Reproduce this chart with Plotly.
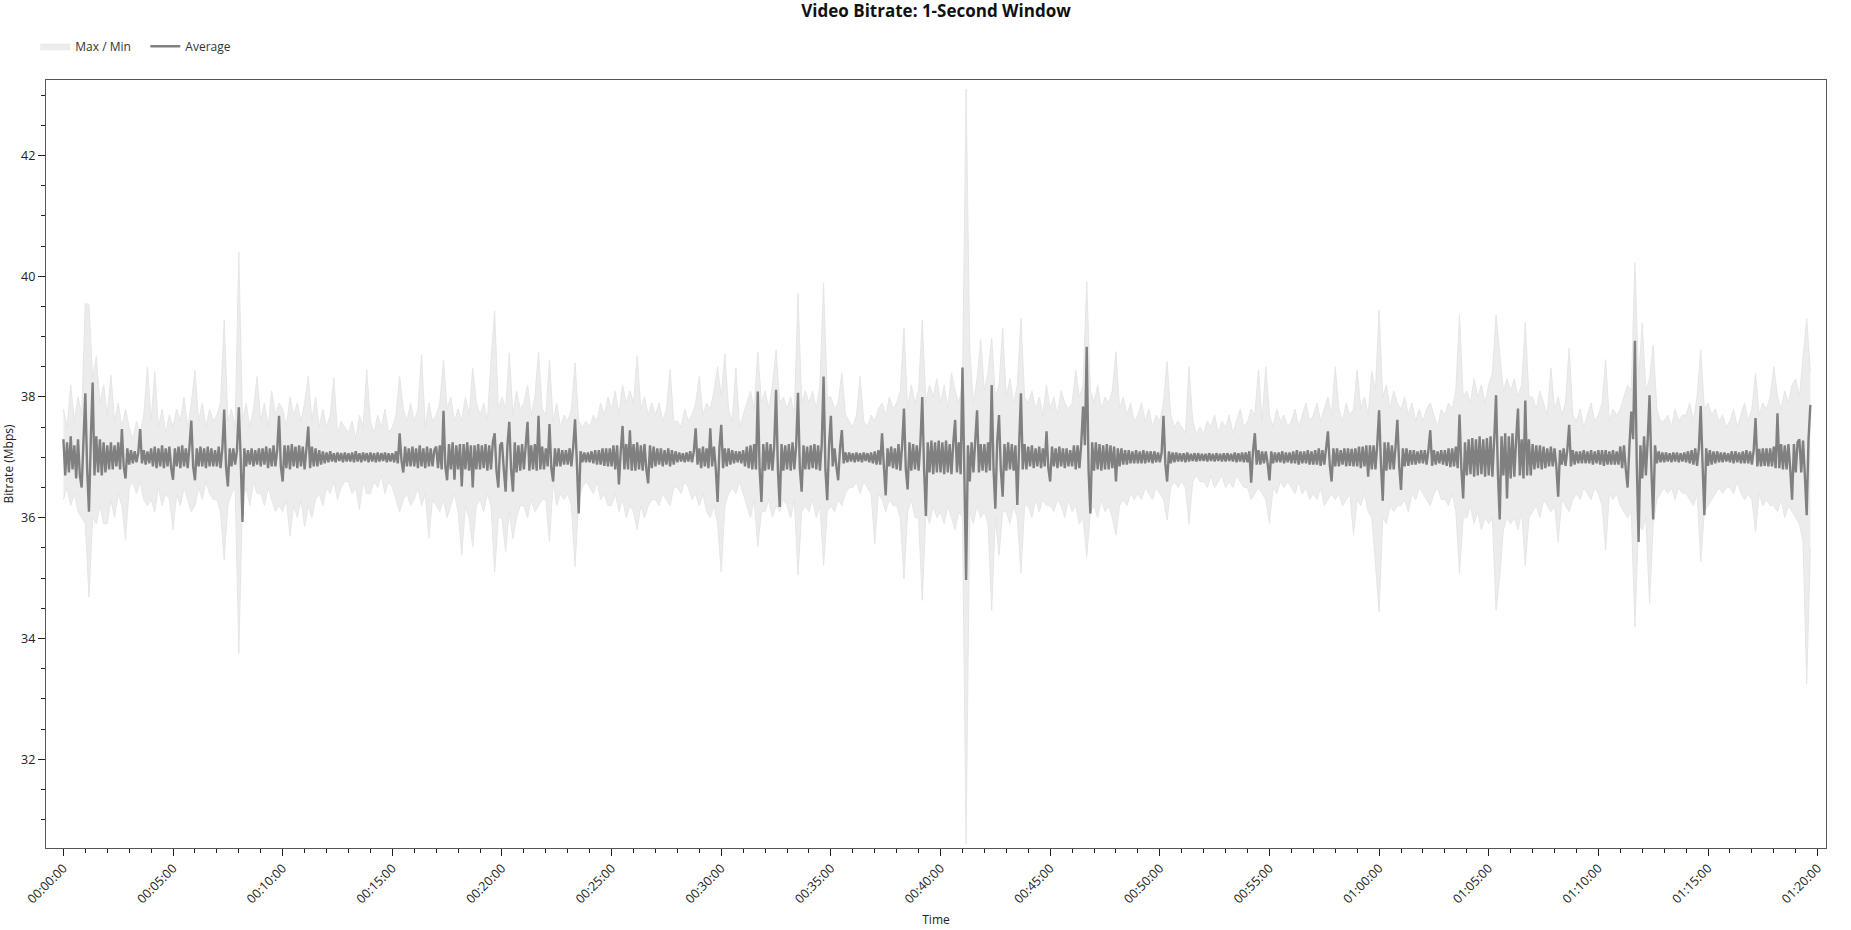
import plotly.graph_objects as go

# ---------------- data ----------------
# Max / Min envelope: one row = one minute, 10 s samples
BAND_STEP_S = 10
MAX_MBPS = [
    37.8, 37.5, 38.2, 37.6, 38.0, 37.7,
    39.55, 39.53, 38.3, 38.67, 37.9, 38.2,
    37.7, 38.36, 37.6, 37.9, 37.5, 37.8,
    37.5, 37.3, 37.6, 37.4, 37.7, 38.5,
    37.6, 38.42, 37.5, 37.8, 37.4, 37.7,
    37.5, 37.8, 37.6, 38.0, 37.5, 37.9,
    38.44, 37.6, 37.9, 37.5, 37.8, 37.6,
    37.7, 37.9, 39.28, 37.6, 37.8, 37.5,
    40.4, 37.6, 37.9, 37.5, 37.8, 38.34,
    37.6, 37.9, 37.5, 38.1, 37.7, 37.9,
    37.8, 37.5, 38.0, 37.7, 37.9, 37.6,
    37.9, 38.35, 37.6, 38.0, 37.5, 37.8,
    37.5, 37.7, 38.31, 37.4, 37.6, 37.5,
    37.4, 37.6, 37.3, 37.7, 37.5, 38.45,
    37.6, 37.4, 37.7, 37.5, 37.8, 37.4,
    37.5, 37.7, 38.34, 37.8, 37.6, 37.9,
    37.6, 37.8, 38.7, 37.5, 37.9, 37.6,
    37.7, 37.9, 38.61, 37.8, 38.0, 37.6,
    37.8, 37.6, 38.0, 37.7, 38.48, 37.9,
    37.7, 37.9, 37.6, 38.6, 39.42, 37.8,
    38.0, 37.8, 38.73, 37.7, 38.1, 37.8,
    37.9, 38.2, 37.7, 38.0, 38.75, 37.8,
    37.7, 38.61, 37.6, 37.9, 37.5, 37.7,
    37.6, 37.8, 38.56, 37.6, 37.5, 37.6,
    37.5, 37.7, 37.6, 37.9, 37.7, 38.0,
    37.8, 38.1, 37.7, 38.2, 37.9, 38.1,
    37.9, 38.68, 37.8, 38.0, 37.7, 37.9,
    37.7, 37.9, 37.6, 37.8, 38.45, 37.6,
    37.6, 37.5, 37.8, 37.6, 37.7, 37.9,
    38.34, 37.7, 37.9, 37.8, 38.1, 38.5,
    38.0, 38.72, 37.8, 37.6, 38.48, 37.5,
    37.7, 37.9, 38.1, 37.8, 38.75, 37.9,
    38.1, 37.8, 38.2, 38.78, 37.9, 38.0,
    37.8, 38.0, 37.7, 39.72, 37.9, 38.1,
    37.9, 38.1, 37.8, 38.2, 39.89, 38.0,
    38.0, 37.8, 37.9, 38.4, 37.7, 37.6,
    37.5, 37.7, 38.34, 37.6, 37.5, 37.7,
    37.6, 37.8, 37.9, 37.7, 38.0, 37.8,
    37.9, 38.1, 39.14, 37.8, 38.2, 37.9,
    38.1, 39.28, 37.9, 38.2, 38.0, 38.3,
    37.9, 38.2, 37.8, 38.4, 38.1, 37.9,
    38.2, 43.1, 38.78, 37.9, 38.3, 38.95,
    38.1, 38.4, 38.97, 38.0, 38.2, 39.14,
    38.0, 38.3, 37.9, 38.2, 39.3, 38.0,
    37.9, 38.1, 37.8, 38.0, 37.7, 38.2,
    37.8, 38.0, 37.7, 38.1, 37.9, 37.8,
    37.9, 38.44, 38.0, 38.2, 39.91, 38.1,
    37.9, 38.2, 37.8, 38.0, 37.9, 38.1,
    38.75, 37.8, 38.0, 37.7, 37.9, 37.6,
    37.7, 37.9, 37.6, 37.8, 37.5, 37.7,
    37.6, 37.9, 38.59, 37.7, 37.5, 37.6,
    37.5, 37.4, 38.5, 37.6, 37.4, 37.5,
    37.4, 37.6, 37.5, 37.7, 37.4, 37.6,
    37.5, 37.7, 37.4, 37.6, 37.8, 37.5,
    37.6, 37.8, 37.7, 38.45, 37.6, 38.5,
    37.7, 37.5, 37.8, 37.6, 37.7, 37.5,
    37.6, 37.8, 37.5, 37.7, 37.9, 37.6,
    37.7, 37.9, 37.6, 37.8, 38.0, 37.7,
    38.5, 37.8, 37.6, 37.9, 37.7, 37.8,
    38.45, 37.8, 38.0, 37.7, 38.42, 38.1,
    39.44, 38.0, 38.2, 37.8, 38.1, 37.9,
    37.8, 38.0, 37.7, 37.9, 37.6, 37.8,
    37.6, 37.8, 37.9, 37.7, 37.5, 37.8,
    37.7, 37.9, 37.8, 38.1, 39.36, 38.0,
    38.1, 37.9, 38.3, 38.0, 38.2, 37.9,
    38.2, 38.4, 39.36, 38.72, 38.1, 38.3,
    38.1, 38.3, 38.0, 38.2, 39.23, 38.0,
    38.0, 37.8, 38.1, 37.9, 37.7, 38.48,
    37.8, 38.0, 37.7, 37.9, 38.81, 37.7,
    37.6, 37.8, 37.5, 37.7, 37.9, 37.6,
    37.7, 37.9, 38.62, 37.6, 37.8, 37.7,
    37.8, 38.0, 38.2, 38.1, 40.22, 38.3,
    39.22, 38.1, 38.3, 38.86, 37.8, 37.6,
    37.6, 37.7, 37.5, 37.8, 37.6, 37.7,
    37.7, 37.9, 37.6, 38.0, 38.78, 37.8,
    37.9, 37.7, 37.8, 37.6, 37.7, 37.5,
    37.6, 37.8, 37.5, 37.7, 37.9, 37.6,
    37.8, 38.39, 37.7, 37.9, 37.8, 38.0,
    38.5, 38.0, 37.8, 38.1, 37.9, 38.2,
    38.3, 38.0, 38.6, 39.3, 38.4,
]

MIN_MBPS = [
    36.3, 36.5, 36.2, 36.4, 36.1, 36.0,
    35.9, 34.69, 36.0, 35.9, 36.2, 35.9,
    35.9, 36.3, 36.0, 36.4, 36.2, 35.63,
    36.5, 36.6, 36.4, 36.6, 36.3, 36.2,
    36.3, 36.1, 36.5, 36.2, 36.4, 36.3,
    35.8, 36.4, 36.2, 36.5, 36.3, 36.1,
    36.2, 36.5, 36.3, 36.6, 36.4, 36.3,
    36.3, 36.1, 35.3, 36.2, 36.4, 36.5,
    33.75, 36.3, 36.5, 36.2, 36.6, 36.4,
    36.4, 36.2, 36.5, 36.3, 36.1, 36.2,
    36.1, 36.3, 35.69, 36.2, 36.0, 36.3,
    35.85, 36.2, 36.0, 36.3, 36.4, 36.2,
    36.5, 36.4, 36.6, 36.3, 36.5, 36.6,
    36.6, 36.4, 36.5, 36.13, 36.6, 36.4,
    36.4, 36.6, 36.5, 36.7, 36.4, 36.6,
    36.5, 36.3, 36.1, 36.3, 36.4, 36.2,
    36.3, 36.5, 36.2, 36.4, 35.66, 36.3,
    36.2, 36.1, 36.3, 36.0, 36.2, 36.4,
    36.1, 35.38, 36.2, 36.0, 35.52, 36.2,
    36.3, 36.1, 36.4, 36.2, 35.1, 36.0,
    36.0, 35.44, 36.1, 35.65, 36.0, 36.2,
    36.2, 36.0, 36.3, 36.1, 36.2, 36.3,
    36.3, 35.6, 36.6, 36.2, 36.4, 36.3,
    36.4, 36.2, 35.19, 36.3, 36.5, 36.6,
    36.5, 36.4, 36.6, 36.3, 36.4, 36.2,
    36.2, 36.4, 36.1, 36.3, 36.0, 36.2,
    36.1, 35.8, 36.2, 36.0, 36.2, 36.3,
    36.3, 36.2, 36.4, 36.3, 36.2, 36.5,
    36.5, 36.4, 36.6, 36.5, 36.3, 36.4,
    36.2, 36.4, 36.1, 36.0, 36.2, 35.9,
    35.1, 36.2, 36.4, 36.5, 36.4, 36.6,
    36.4, 36.2, 36.0, 36.3, 35.52, 36.1,
    36.1, 36.3, 36.0, 36.2, 36.1, 36.3,
    36.2, 36.0, 36.3, 35.05, 36.1, 36.2,
    36.1, 36.3, 36.0, 36.2, 35.21, 36.1,
    36.2, 36.1, 36.3, 36.2, 36.4, 36.5,
    36.5, 36.6, 36.4, 36.6, 36.5, 36.4,
    35.57, 36.4, 36.3, 36.1, 36.3, 36.2,
    36.2, 36.0, 34.99, 36.1, 36.3, 36.0,
    36.0, 34.63, 36.1, 35.9, 36.2, 36.0,
    36.1, 35.9, 36.2, 36.0, 35.8, 36.1,
    36.0, 30.6, 36.1, 35.9, 36.2, 36.0,
    36.1, 35.9, 34.47, 36.0, 35.38, 36.1,
    36.1, 35.9, 36.2, 36.0, 35.08, 36.2,
    36.2, 36.0, 36.3, 36.1, 36.3, 36.2,
    36.2, 36.1, 36.3, 36.2, 36.0, 36.3,
    36.1, 36.2, 35.9, 36.0, 35.35, 36.1,
    36.2, 36.0, 36.3, 36.1, 36.2, 36.0,
    35.71, 36.2, 36.3, 36.2, 36.4, 36.3,
    36.4, 36.3, 36.5, 36.4, 36.3, 36.5,
    36.4, 36.3, 35.96, 36.5, 36.6, 36.5,
    36.6, 36.5, 35.9, 36.6, 36.7, 36.6,
    36.6, 36.5, 36.7, 36.5, 36.6, 36.7,
    36.5, 36.6, 36.5, 36.7, 36.6, 36.5,
    36.5, 36.3, 36.4, 36.5, 36.4, 36.3,
    35.9, 36.5, 36.4, 36.6, 36.5, 36.6,
    36.5, 36.4, 36.6, 36.4, 36.5, 36.3,
    36.4, 36.3, 36.5, 36.2, 36.3, 36.4,
    36.3, 36.4, 36.2, 36.3, 36.4, 35.71,
    36.3, 36.2, 36.4, 36.1, 36.0, 35.24,
    34.44, 36.0, 35.9, 36.2, 36.1, 36.2,
    36.2, 36.3, 36.1, 36.4, 36.3, 36.5,
    36.4, 36.3, 36.2, 36.4, 36.5, 36.3,
    36.3, 36.2, 36.4, 36.1, 35.08, 36.0,
    36.0, 36.2, 35.9, 36.1, 35.8, 36.0,
    35.9, 36.0, 34.47, 35.02, 35.8, 36.0,
    35.9, 36.0, 35.8, 36.1, 35.21, 36.0,
    36.1, 36.2, 36.0, 36.3, 36.2, 36.1,
    36.2, 35.6, 36.3, 36.2, 36.1, 36.3,
    36.4, 36.3, 36.5, 36.4, 36.3, 36.5,
    36.4, 36.2, 35.46, 36.4, 36.3, 36.4,
    36.2, 36.1, 36.0, 36.1, 34.19, 35.9,
    35.8, 36.0, 34.58, 35.9, 36.3, 36.4,
    36.5, 36.4, 36.5, 36.3, 36.5, 36.4,
    36.4, 36.3, 36.2, 36.4, 35.27, 36.1,
    36.2, 36.3, 36.4, 36.5, 36.4, 36.5,
    36.5, 36.4, 36.6, 36.4, 36.3, 36.4,
    36.3, 35.77, 36.4, 36.2, 36.3, 36.2,
    36.2, 36.1, 36.3, 36.0, 36.2, 36.1,
    36.0, 35.9, 35.6, 33.25, 35.5,
]

# Average: one row = one minute, 5 s samples
AVG_STEP_S = 5
AVG_MBPS = [
    37.3, 36.7, 37.25, 36.75, 37.35, 36.8, 37.2, 36.65, 37.3, 36.7, 36.5, 37.2,
    38.06, 36.8, 36.1, 37.3, 38.24, 36.7, 37.35, 36.75, 37.3, 36.7, 37.25, 36.75,
    37.2, 36.8, 37.25, 36.8, 37.2, 36.85, 37.25, 36.8, 37.47, 36.85, 36.65, 37.15,
    36.88, 37.12, 36.9, 37.1, 36.92, 37.08, 37.47, 36.9, 37.12, 36.88, 37.1, 36.9,
    37.15, 36.85, 37.18, 36.82, 37.15, 36.85, 37.2, 36.82, 37.15, 36.85, 37.18, 36.82,
    36.63, 37.15, 36.85, 37.18, 36.82, 37.2, 36.85, 37.15, 36.82, 37.18, 37.61, 36.85,
    36.62, 37.15, 36.85, 37.18, 36.85, 37.15, 36.82, 37.18, 36.85, 37.15, 36.85, 37.12,
    36.85, 37.18, 36.82, 37.15, 37.79, 36.85, 36.52, 37.15, 36.85, 37.15, 36.88, 37.12,
    37.83, 37.0, 35.93, 37.15, 36.85, 37.12, 36.88, 37.15, 36.85, 37.12, 36.88, 37.15,
    36.85, 37.15, 36.88, 37.18, 36.82, 37.15, 36.85, 37.2, 36.85, 37.12, 37.69, 36.85,
    36.6, 37.2, 36.82, 37.2, 36.8, 37.22, 36.85, 37.18, 36.82, 37.2, 36.85, 37.18,
    36.8, 37.15, 37.51, 36.82, 37.18, 36.85, 37.15, 36.85, 37.12, 36.88, 37.1, 36.9,
    37.08, 36.92, 37.1, 36.93, 37.07, 36.92, 37.08, 36.94, 37.07, 36.92, 37.08, 36.93,
    37.07, 36.93, 37.08, 36.92, 37.1, 36.93, 37.07, 36.92, 37.08, 36.94, 37.07, 36.92,
    37.08, 36.93, 37.07, 36.92, 37.08, 36.93, 37.07, 36.94, 37.08, 36.92, 37.07, 36.93,
    37.07, 36.92, 37.1, 36.9, 37.4, 36.95, 36.75, 37.18, 36.85, 37.15, 36.85, 37.18,
    36.85, 37.15, 36.82, 37.2, 36.85, 37.15, 36.82, 37.18, 36.85, 37.15, 36.85, 37.12,
    37.18, 36.82, 37.2, 36.8, 37.77, 36.85, 36.62, 37.22, 36.8, 37.25, 36.63, 37.2,
    36.8, 37.22, 36.52, 37.22, 36.8, 37.25, 36.78, 37.2, 36.5, 37.2, 36.8, 37.22,
    36.8, 37.2, 36.82, 37.22, 36.78, 37.2, 36.8, 37.25, 37.4, 36.78, 36.5, 37.2,
    37.25, 36.8, 36.43, 37.2, 37.59, 36.8, 36.43, 37.25, 36.75, 37.2, 36.78, 37.22,
    36.8, 37.2, 37.59, 36.78, 37.2, 36.8, 37.22, 36.78, 37.69, 36.8, 37.18, 36.8,
    37.15, 36.85, 37.55, 36.82, 36.6, 37.15, 36.85, 37.15, 36.85, 37.12, 36.88, 37.12,
    36.88, 37.15, 36.85, 37.18, 37.63, 36.9, 36.07, 37.1, 36.92, 37.08, 36.92, 37.08,
    36.92, 37.1, 36.9, 37.12, 36.88, 37.12, 36.88, 37.15, 36.86, 37.15, 36.85, 37.15,
    36.85, 37.2, 36.8, 37.2, 36.55, 37.1, 37.52, 36.8, 37.22, 36.8, 37.45, 36.78,
    37.22, 36.78, 37.25, 36.8, 37.2, 36.78, 37.22, 36.8, 36.57, 37.2, 36.82, 37.18,
    36.85, 37.15, 36.88, 37.15, 36.85, 37.12, 36.88, 37.15, 36.85, 37.12, 36.88, 37.1,
    36.92, 37.08, 36.93, 37.07, 36.92, 37.08, 36.93, 37.1, 36.92, 37.1, 37.48, 36.88,
    37.15, 36.82, 37.18, 36.85, 37.15, 36.82, 37.48, 36.85, 37.18, 36.82, 36.26, 37.15,
    37.54, 36.82, 37.15, 36.85, 37.15, 36.88, 37.12, 36.9, 37.1, 36.92, 37.1, 36.9,
    37.12, 36.85, 37.18, 36.82, 37.2, 36.8, 37.22, 36.8, 38.09, 36.8, 36.26, 37.22,
    36.78, 37.25, 36.8, 37.22, 36.78, 37.2, 38.12, 36.8, 36.18, 37.22, 36.78, 37.2,
    36.8, 37.22, 36.78, 37.25, 36.8, 37.2, 38.07, 36.82, 36.43, 37.2, 36.8, 37.18,
    36.8, 37.2, 36.82, 37.22, 36.8, 37.2, 36.78, 37.22, 38.34, 36.8, 36.29, 37.2,
    37.69, 36.85, 37.15, 36.85, 36.62, 37.15, 37.45, 36.9, 37.08, 36.92, 37.08, 36.93,
    37.07, 36.92, 37.08, 36.93, 37.07, 36.92, 37.08, 36.94, 37.07, 36.92, 37.08, 36.9,
    37.1, 36.88, 37.12, 36.88, 37.4, 36.85, 36.37, 37.15, 36.85, 37.18, 36.82, 37.15,
    36.8, 37.22, 36.78, 37.2, 37.81, 36.8, 36.47, 37.25, 36.78, 37.22, 36.8, 37.2,
    36.78, 37.25, 38.0, 36.8, 36.03, 37.25, 36.75, 37.28, 36.72, 37.25, 36.75, 37.28,
    36.75, 37.25, 36.72, 37.28, 36.75, 37.22, 36.72, 37.25, 37.62, 36.75, 37.25, 36.72,
    38.49, 36.8, 34.97, 37.2, 36.6, 37.25, 36.75, 37.28, 37.78, 36.75, 37.22, 36.78,
    37.22, 36.75, 37.25, 36.78, 38.2, 36.8, 36.15, 37.25, 37.7, 36.8, 36.35, 37.22,
    36.78, 37.25, 36.8, 37.22, 36.78, 37.2, 36.21, 37.2, 38.06, 36.8, 37.22, 36.8,
    37.18, 36.85, 37.2, 36.82, 37.15, 36.85, 37.18, 36.82, 37.15, 36.85, 37.43, 36.82,
    36.6, 37.18, 36.85, 37.15, 36.82, 37.18, 36.85, 37.15, 36.82, 37.15, 36.85, 37.12,
    36.85, 37.2, 36.8, 37.2, 36.82, 37.22, 37.84, 37.2, 38.83, 36.8, 36.07, 37.25,
    36.78, 37.25, 36.8, 37.22, 36.78, 37.2, 36.8, 37.22, 36.8, 37.2, 36.82, 37.18,
    36.6, 37.15, 36.85, 37.15, 36.88, 37.12, 36.88, 37.12, 36.9, 37.1, 36.9, 37.12,
    36.9, 37.1, 36.9, 37.12, 36.9, 37.1, 36.92, 37.1, 36.9, 37.1, 36.92, 37.08,
    36.92, 37.08, 37.69, 36.9, 36.6, 37.1, 36.9, 37.08, 36.92, 37.08, 36.93, 37.07,
    36.93, 37.07, 36.92, 37.08, 36.93, 37.06, 36.94, 37.07, 36.93, 37.07, 36.94, 37.06,
    36.94, 37.06, 36.93, 37.07, 36.94, 37.06, 36.93, 37.07, 36.94, 37.06, 36.93, 37.07,
    36.93, 37.07, 36.94, 37.06, 36.93, 37.08, 36.92, 37.07, 36.93, 37.08, 36.92, 37.08,
    36.92, 37.1, 36.58, 37.1, 37.4, 36.88, 37.12, 36.88, 37.1, 36.9, 37.1, 36.9,
    36.62, 37.1, 36.9, 37.08, 36.92, 37.08, 36.92, 37.1, 36.9, 37.08, 36.92, 37.08,
    36.9, 37.1, 36.9, 37.12, 36.88, 37.1, 36.9, 37.1, 36.9, 37.12, 36.88, 37.1,
    36.88, 37.12, 36.88, 37.15, 36.86, 37.12, 36.88, 37.15, 37.43, 36.88, 36.6, 37.15,
    36.85, 37.15, 36.85, 37.12, 36.88, 37.15, 36.85, 37.15, 36.86, 37.14, 36.85, 37.15,
    36.85, 37.18, 36.82, 37.18, 36.85, 37.2, 36.68, 37.2, 36.8, 37.2, 36.8, 37.22,
    37.78, 36.9, 36.28, 37.25, 36.78, 37.25, 36.8, 37.2, 36.8, 37.18, 37.62, 36.85,
    36.46, 37.15, 36.85, 37.15, 36.86, 37.12, 36.88, 37.12, 36.88, 37.1, 36.9, 37.12,
    36.9, 37.12, 36.88, 37.12, 37.45, 36.86, 37.12, 36.88, 37.1, 36.9, 37.12, 36.88,
    37.12, 36.86, 37.15, 36.84, 37.15, 36.85, 37.18, 36.82, 37.71, 36.82, 36.32, 37.25,
    36.7, 37.3, 36.72, 37.32, 36.68, 37.3, 36.7, 37.35, 36.72, 37.3, 36.68, 37.32,
    36.7, 37.35, 36.68, 37.3, 38.03, 36.75, 35.97, 37.35, 36.7, 37.4, 36.32, 37.35,
    36.65, 37.4, 36.68, 37.3, 37.81, 36.7, 37.3, 36.65, 37.94, 36.7, 37.3, 36.7,
    37.22, 36.8, 37.2, 36.82, 37.2, 36.8, 37.18, 36.82, 37.15, 36.85, 37.18, 36.85,
    37.15, 36.85, 36.35, 37.12, 36.88, 37.15, 36.86, 37.12, 37.54, 36.85, 37.12, 36.88,
    37.1, 36.9, 37.1, 36.9, 37.12, 36.9, 37.1, 36.9, 37.12, 36.88, 37.1, 36.9,
    37.12, 36.88, 37.12, 36.86, 37.12, 36.88, 37.1, 36.88, 37.12, 36.88, 37.1, 36.88,
    37.18, 36.82, 37.2, 36.8, 36.5, 37.2, 37.76, 37.3, 38.93, 36.9, 35.6, 37.2,
    36.65, 37.35, 36.7, 37.3, 38.03, 36.8, 35.97, 37.2, 36.9, 37.1, 36.92, 37.08,
    36.92, 37.08, 36.93, 37.07, 36.92, 37.08, 36.93, 37.08, 36.92, 37.07, 36.93, 37.08,
    36.92, 37.1, 36.9, 37.12, 36.88, 37.15, 36.86, 37.15, 37.85, 36.9, 36.04, 37.15,
    36.86, 37.12, 36.88, 37.1, 36.9, 37.1, 36.92, 37.08, 36.92, 37.08, 36.93, 37.07,
    36.92, 37.1, 36.9, 37.1, 36.92, 37.08, 36.9, 37.1, 36.9, 37.12, 36.9, 37.1,
    36.88, 37.12, 37.65, 36.85, 37.14, 36.85, 37.15, 36.86, 37.15, 36.85, 37.15, 36.85,
    37.18, 36.82, 37.73, 36.82, 37.22, 36.8, 37.2, 36.8, 37.22, 36.8, 36.3, 37.22,
    36.75, 37.25, 37.3, 36.75, 37.28, 36.7, 36.04, 37.3, 37.87,
]

TICK_LABELS = [
    "00:00:00", "00:05:00", "00:10:00", "00:15:00", "00:20:00", "00:25:00",
    "00:30:00", "00:35:00", "00:40:00", "00:45:00", "00:50:00", "00:55:00",
    "01:00:00", "01:05:00", "01:10:00", "01:15:00", "01:20:00",
]
TICK_STEP_S = 300

BAND_TIME_S = [i * BAND_STEP_S for i in range(len(MAX_MBPS))]
AVG_TIME_S = [i * AVG_STEP_S for i in range(len(AVG_MBPS))]
TICK_VALS = [i * TICK_STEP_S for i in range(len(TICK_LABELS))]

FONT = "Open Sans, Noto Sans, DejaVu Sans, sans-serif"
BAND_FILL = "rgb(236,236,236)"
BAND_LINE = "rgb(230,230,230)"
AVG_COLOR = "rgb(128,128,128)"

fig = go.Figure()
fig.add_trace(go.Scatter(
    x=BAND_TIME_S, y=MIN_MBPS, mode="lines", name="Min",
    line=dict(color=BAND_LINE, width=1), showlegend=False, hoverinfo="skip",
))
fig.add_trace(go.Scatter(
    x=BAND_TIME_S, y=MAX_MBPS, mode="lines", name="Max / Min",
    line=dict(color=BAND_LINE, width=1), fill="tonexty", fillcolor=BAND_FILL,
))
fig.add_trace(go.Scatter(
    x=AVG_TIME_S, y=AVG_MBPS, mode="lines", name="Average",
    line=dict(color=AVG_COLOR, width=2.4),
))

fig.update_layout(
    width=1851, height=930,
    margin=dict(l=46, r=25, t=80, b=82),
    paper_bgcolor="white", plot_bgcolor="white",
    font=dict(family=FONT, size=12, color="#222"),
    title=dict(text="<b>Video Bitrate: 1-Second Window</b>", x=0.5, xref="paper",
               xanchor="center", y=1 - 11 / 930, yref="container", yanchor="middle",
               font=dict(size=17, color="#111")),
    legend=dict(orientation="h", x=-0.006, xanchor="left", y=1.044, yanchor="middle",
                font=dict(size=12, color="#333"), bgcolor="rgba(0,0,0,0)",
                traceorder="normal", entrywidth=65, entrywidthmode="pixels"),
    showlegend=True,
)

fig.update_xaxes(
    range=[-47.6, 4822.8], automargin=False,
    tickmode="array", tickvals=TICK_VALS, ticktext=TICK_LABELS,
    tickangle=-45, ticks="outside", ticklen=7, tickwidth=1, tickcolor="#222",
    tickfont=dict(size=12.5, color="#222"),
    minor=dict(tickmode="linear", tick0=0, dtick=60, ticks="outside", ticklen=4,
               tickwidth=1, tickcolor="#222", showgrid=False),
    showline=True, linecolor="#555", linewidth=1.3, mirror=True,
    showgrid=False, zeroline=False,
    title=dict(text="Time", font=dict(size=12, color="#222"), standoff=9),
)
fig.update_yaxes(
    range=[30.53, 43.25], automargin=False,
    tickmode="linear", tick0=0, dtick=2,
    ticks="outside", ticklen=7, tickwidth=1, tickcolor="#222",
    tickfont=dict(size=12.5, color="#222"),
    minor=dict(tickmode="linear", tick0=0, dtick=0.5, ticks="outside", ticklen=4,
               tickwidth=1, tickcolor="#222", showgrid=False),
    showline=True, linecolor="#555", linewidth=1.3, mirror=True,
    showgrid=False, zeroline=False,
    title=dict(text="Bitrate (Mbps)", font=dict(size=12, color="#222"), standoff=6),
)

fig.write_html(
    "out.html",
    config={"displayModeBar": False},
    post_script="document.body.style.margin='0px';document.body.style.overflow='hidden';",
)
